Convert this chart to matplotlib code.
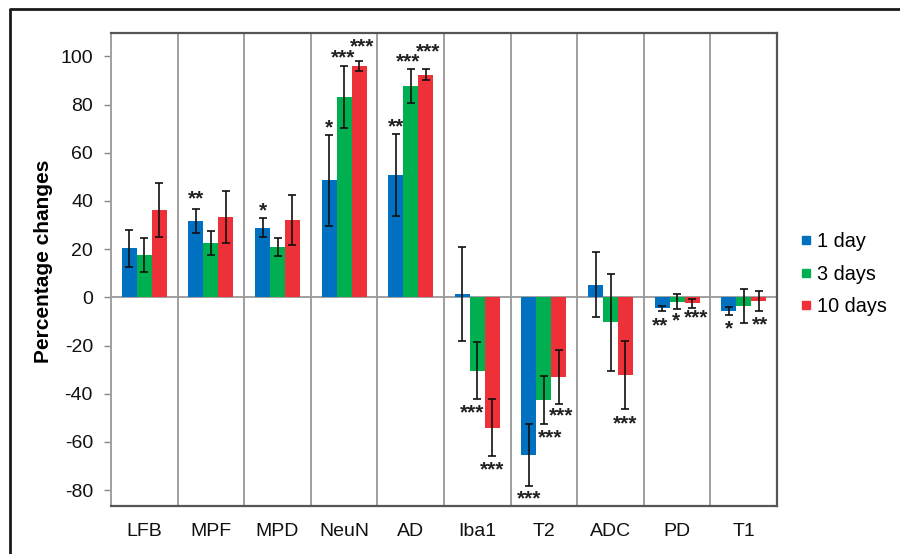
import matplotlib
matplotlib.use("Agg")
import matplotlib.pyplot as plt
from matplotlib.lines import Line2D
import numpy as np

plt.rcParams['font.family'] = ['Liberation Sans', 'DejaVu Sans']

categories = ["LFB", "MPF", "MPD", "NeuN", "AD", "Iba1", "T2", "ADC", "PD", "T1"]
series_names = ["1 day", "3 days", "10 days"]

day1 = [20.3, 31.7, 28.9, 48.5, 50.9, 1.4, -65.4, 5.2, -4.6, -5.7]
day3 = [17.5, 22.7, 21.0, 83.2, 87.7, -30.4, -42.6, -10.4, -1.8, -3.5]
day10 = [36.2, 33.4, 32.1, 96.0, 92.4, -54.1, -33.2, -32.2, -2.5, -1.5]

err1 = [7.7, 5.0, 4.0, 18.7, 17.0, 19.5, 12.7, 13.5, 1.0, 1.6]
err3 = [7.0, 5.0, 3.8, 13.0, 7.0, 12.0, 10.0, 20.0, 3.0, 7.0]
err10 = [11.2, 10.8, 10.3, 2.2, 2.2, 11.8, 11.2, 14.0, 2.0, 4.3]

stars1 = ["", "**", "*", "*", "**", "", "***", "", "**", "*"]
stars3 = ["", "", "", "***", "***", "***", "***", "", "*", ""]
stars10 = ["", "", "", "***", "***", "***", "***", "***", "***", "**"]

yticks = [-80, -60, -40, -20, 0, 20, 40, 60, 80, 100]

colors = ["#0070C0", "#00B050", "#EE3039"]

# annotation nudges (pixels) so that star labels don't collide: (series, category) -> (dx, dy)
star_nudge = {
    (0, 1): (0, 3), (0, 8): (-2.5, 1),
    (1, 3): (-1, 0.5), (1, 4): (-3, 0), (1, 5): (-5.5, 0), (1, 6): (6.4, 0), (1, 8): (-1, -2),
    (2, 3): (3, 7), (2, 4): (2.7, 10.5), (2, 6): (2, -2.6), (2, 7): (0, 2), (2, 8): (4.3, -4),
    (2, 9): (1.7, 0),
}

PX = 72 / 100.0  # points per pixel

fig = plt.figure(figsize=(9, 5.54), dpi=100)
ax = fig.add_axes([111/900, 1-506/554, 666/900, 473/554])

x = np.arange(len(categories))
w = 0.225
values = [day1, day3, day10]
errs = [err1, err3, err10]
stars = [stars1, stars3, stars10]
offsets = [-w, 0, w]

for i in range(3):
    ax.bar(x + offsets[i], values[i], width=w, color=colors[i], zorder=2,
           label=series_names[i])
    ax.errorbar(x + offsets[i], values[i], yerr=errs[i], fmt='none',
                ecolor='#111111', elinewidth=1.2, capsize=3.0, capthick=1.2, zorder=3)

star_fs = 15
center_above_baseline = 9.2  # px, visual centre of '*' above baseline
for i in range(3):
    for j in range(len(categories)):
        s = stars[i][j]
        if not s:
            continue
        v = values[i][j]
        e = errs[i][j]
        ndx, ndy = star_nudge.get((i, j), (0, 0))
        if v >= 0:
            yv = v + e
            cy = 11 + ndy
        else:
            yv = v - e
            cy = -(10 + ndy)
        by = cy - center_above_baseline
        ax.annotate(s, (x[j] + offsets[i], yv), xytext=(ndx * PX, by * PX),
                    textcoords='offset points', ha='center', va='baseline',
                    fontsize=star_fs, fontweight='bold', color='#222222', zorder=4)

ax.set_xlim(-0.5, len(categories) - 0.5)
ax.set_ylim(-86.6, 109.7)
ax.set_yticks(yticks)
ax.set_yticklabels([str(t) for t in yticks])
ax.set_xticks(x)
ax.set_xticklabels(categories)
ax.tick_params(axis='x', length=0, pad=12, labelsize=14, colors='#111111')
ax.tick_params(axis='y', length=5, width=1, color='#888888', pad=8,
               labelsize=14, labelcolor='#111111')

for b in np.arange(0.5, len(categories) - 0.5, 1.0):
    ax.axvline(b, color='#a0a0a0', lw=1.4, zorder=1)
ax.axhline(0, color='#999999', lw=1.3, zorder=1)

for side in ['top', 'right', 'bottom']:
    ax.spines[side].set_color('#555555')
    ax.spines[side].set_linewidth(1.6)
ax.spines['left'].set_color('#a0a0a0')
ax.spines['left'].set_linewidth(1.4)

ax.set_ylabel("Percentage changes", fontsize=15, fontweight='bold')
ax.yaxis.set_label_coords(-0.087, 0.518)

handles = [Line2D([0], [0], marker='s', linestyle='none', markersize=6,
                  markerfacecolor=c, markeredgecolor=c) for c in colors]
fig.legend(handles, series_names, loc='center left',
           bbox_to_anchor=(800/900, 1-274/554), frameon=False, fontsize=14.3,
           handlelength=0.6, handletextpad=0.25, labelspacing=0.66, borderpad=0,
           borderaxespad=0)

fig.add_artist(Line2D([10/900, 10/900, 1.0], [0.0, 1-9/554, 1-9/554],
                      transform=fig.transFigure, color='#1a1a1a', lw=2.0))

fig.savefig("out.png", dpi=100)
